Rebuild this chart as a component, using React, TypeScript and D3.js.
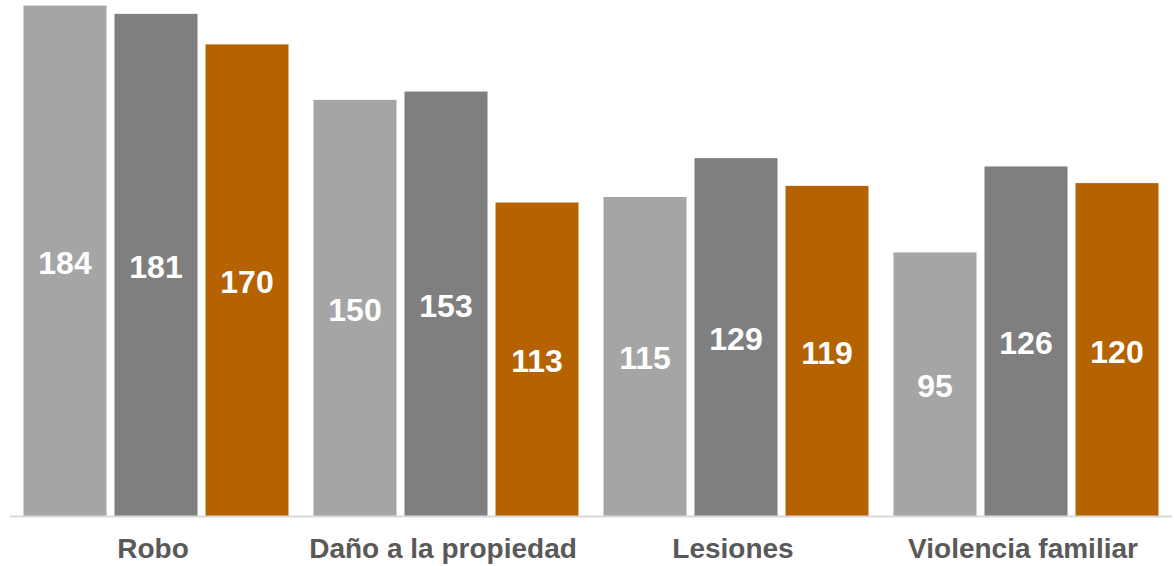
import React from "react";
import * as d3 from "d3";

const categories = ["Robo", "Daño a la propiedad", "Lesiones", "Violencia familiar"];
const seriesNames = ["Serie 1", "Serie 2", "Serie 3"];
const serie1 = [184, 150, 115, 95];
const serie2 = [181, 153, 129, 126];
const serie3 = [170, 113, 119, 120];
const seriesValues = [serie1, serie2, serie3];
const colors = ["#A5A5A5", "#7F7F7F", "#B56200"];

const W = 1174;
const H = 566;

export default function App() {
  const x0 = d3
    .scaleBand<string>()
    .domain(categories)
    .range([11, 1171])
    .paddingInner(25 / 290)
    .paddingOuter(12.5 / 290);
  const x1 = d3
    .scaleBand<string>()
    .domain(seriesNames)
    .range([0, x0.bandwidth()])
    .paddingInner(8 / 91)
    .paddingOuter(0);
  const y = d3.scaleLinear().domain([0, 186]).range([516, 0]);
  const labelSize = 32;
  const catSize = 28;

  return (
    <svg
      width={W}
      height={H}
      style={{ position: "absolute", left: 0, top: 0, background: "#fff" }}
      fontFamily="'Liberation Sans', Arial, sans-serif"
    >
      {categories.map((c, ci) => (
        <g key={c} transform={`translate(${x0(c)},0)`}>
          {seriesNames.map((s, si) => {
            const v = seriesValues[si][ci];
            const top = y(v);
            const bx = x1(s)!;
            const mid = (top + y(0)) / 2;
            return (
              <g key={s}>
                <rect x={bx} y={top} width={x1.bandwidth()} height={y(0) - top} fill={colors[si]} />
                <text
                  x={bx + x1.bandwidth() / 2}
                  y={mid + labelSize * 0.358 + 1.5}
                  textAnchor="middle"
                  fill="#fff"
                  fontWeight="bold"
                  fontSize={labelSize}
                >
                  {v}
                </text>
              </g>
            );
          })}
          <text
            x={x0.bandwidth() / 2 - 3}
            y={558}
            textAnchor="middle"
            fill="#595959"
            fontWeight="bold"
            fontSize={catSize}
          >
            {c}
          </text>
        </g>
      ))}
      <line x1={10} x2={1172} y1={516.5} y2={516.5} stroke="#D9D9D9" strokeWidth={2} />
    </svg>
  );
}
